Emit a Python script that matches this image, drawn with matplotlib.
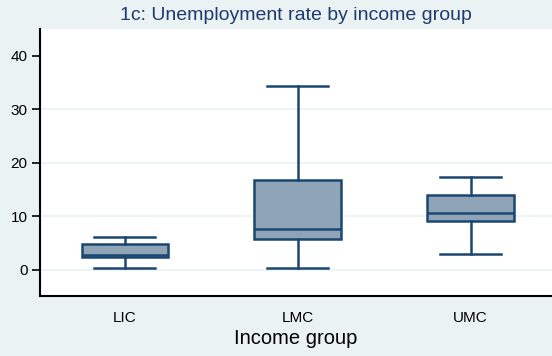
import matplotlib
matplotlib.use("Agg")
import matplotlib.pyplot as plt

# --- Data (unemployment rate %) ---
groups = ["LIC", "LMC", "UMC"]
whisker_low = [0.4, 0.4, 2.9]
q1 = [2.3, 5.7, 9.1]
median = [2.7, 7.7, 10.6]
q3 = [4.9, 16.8, 14.0]
whisker_high = [6.2, 34.3, 17.3]
yticks = [0, 10, 20, 30, 40]

bg = "#eaf2f3"
navy = "#1a476f"
fill = "#90a4b8"

plt.rcParams["font.family"] = ["Liberation Sans", "DejaVu Sans"]

fig = plt.figure(figsize=(5.52, 3.56), dpi=100, facecolor=bg)
ax = fig.add_axes([40 / 552, 60 / 356, 512 / 552, 267 / 356])
ax.set_facecolor("white")

stats = []
for i, g in enumerate(groups):
    stats.append(dict(label=g, whislo=whisker_low[i], q1=q1[i], med=median[i],
                      q3=q3[i], whishi=whisker_high[i], fliers=[]))

pos = [1, 2, 3]
ax.bxp(stats, positions=pos, widths=0.5, patch_artist=True, showfliers=False,
       boxprops=dict(facecolor=fill, edgecolor=navy, linewidth=1.8),
       medianprops=dict(color=navy, linewidth=1.8),
       whiskerprops=dict(color=navy, linewidth=1.8),
       capprops=dict(color=navy, linewidth=1.8), capwidths=0.35)

# grid lines (Stata style, none at the top tick)
for y in yticks[:-1]:
    ax.axhline(y, color=bg, lw=1.2, zorder=0)

ax.set_xlim(0.51, 3.47)
ax.set_ylim(-4.9, 45)
ax.set_yticks(yticks)
ax.set_xticks(pos)
ax.set_xticklabels(groups, fontsize=11)
ax.tick_params(axis="x", length=0, pad=11)
ax.tick_params(axis="y", direction="out", length=6, width=1.2, labelsize=11,
               pad=3)
for s in ["top", "right"]:
    ax.spines[s].set_visible(False)
for s in ["left", "bottom"]:
    ax.spines[s].set_linewidth(1.5)
ax.set_xlabel("Income group", fontsize=14.5, labelpad=3)

fig.text(296 / 552, 1 - 16 / 356, "1c: Unemployment rate by income group",
         ha="center", va="center", fontsize=14, color="#1e3a6e")

fig.savefig("out.png", dpi=100, facecolor=bg)
